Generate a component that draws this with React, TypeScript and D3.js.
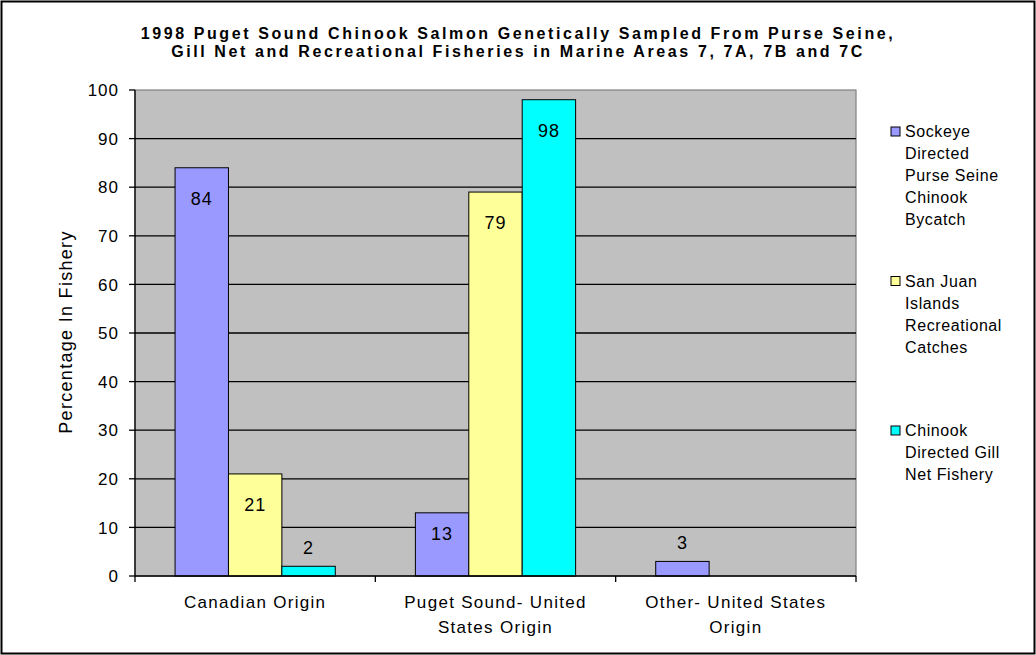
import React from "react";
import * as d3 from "d3";

const categories: string[][] = [
  ["Canadian Origin"],
  ["Puget Sound- United", "States Origin"],
  ["Other- United States", "Origin"],
];
const seriesNames: string[][] = [
  ["Sockeye", "Directed", "Purse Seine", "Chinook", "Bycatch"],
  ["San Juan", "Islands", "Recreational", "Catches"],
  ["Chinook", "Directed Gill", "Net Fishery"],
];
const sockeye: (number | null)[] = [84, 13, 3];
const sanJuan: (number | null)[] = [21, 79, null];
const gillNet: (number | null)[] = [2, 98, null];
const seriesValues = [sockeye, sanJuan, gillNet];
const colors = ["#9999FF", "#FFFF99", "#00FFFF"];
const yTicks = [0, 10, 20, 30, 40, 50, 60, 70, 80, 90, 100];
const titleLines = [
  "1998 Puget Sound Chinook Salmon Genetically Sampled From Purse Seine,",
  "Gill Net and Recreational Fisheries in Marine Areas 7, 7A, 7B and 7C",
];
const yTitle = "Percentage In Fishery";

export default function App() {
  const W = 1036, H = 655;
  const left = 135, right = 856, top = 90, bottom = 576;
  const y = d3.scaleLinear().domain([0, 100]).range([bottom, top]);
  const x0 = d3.scaleBand<number>().domain([0, 1, 2]).range([left, right]).paddingInner(0).paddingOuter(0);
  const bw = x0.bandwidth();
  const barW = bw / 4.5;
  const groupOff = (bw - 3 * barW) / 2;
  const font = "'Liberation Sans', Arial, sans-serif";

  return (
    <svg width={W} height={H} style={{ position: "fixed", left: 0, top: 0, background: "#fff" }} fontFamily={font}>
      <rect x={1.5} y={1.5} width={W - 3} height={H - 3} fill="#fff" stroke="#000" strokeWidth={2} />
      {titleLines.map((t, i) => (
        <text key={i} x={518} y={39 + i * 18} textAnchor="middle" fontWeight="bold" fontSize={16} letterSpacing={2.6}>
          {t}
        </text>
      ))}
      <rect x={left} y={top} width={right - left} height={bottom - top} fill="#C0C0C0" stroke="#808080" strokeWidth={1.2} />
      {yTicks.filter((t) => t > 0 && t < 100).map((t) => (
        <line key={t} x1={left} x2={right} y1={y(t)} y2={y(t)} stroke="#000" strokeWidth={1.3} />
      ))}
      {seriesValues.map((vals, s) =>
        vals.map((v, c) => {
          if (v == null) return null;
          const bx = (x0(c) as number) + groupOff + s * barW;
          return (
            <rect key={`${s}-${c}`} x={bx} y={y(v)} width={barW} height={bottom - y(v)} fill={colors[s]} stroke="#000" strokeWidth={1} />
          );
        })
      )}
      {seriesValues.map((vals, s) =>
        vals.map((v, c) => {
          if (v == null) return null;
          const bx = (x0(c) as number) + groupOff + s * barW + barW / 2;
          const h = bottom - y(v);
          const ly = h < 30 ? y(v) - 12 : Math.min(y(v) + 37, bottom - 36);
          return (
            <text key={`l${s}-${c}`} x={bx} y={ly} textAnchor="middle" fontSize={18} letterSpacing={1}>
              {v}
            </text>
          );
        })
      )}
      <line x1={left} x2={left} y1={top} y2={bottom + 6} stroke="#000" strokeWidth={1.3} />
      <line x1={left} x2={right} y1={bottom} y2={bottom} stroke="#000" strokeWidth={1.3} />
      {yTicks.map((t) => (
        <g key={t}>
          <line x1={left - 6} x2={left} y1={y(t)} y2={y(t)} stroke="#000" strokeWidth={1.3} />
          <text x={119} y={y(t)} dy="0.36em" textAnchor="end" fontSize={17} letterSpacing={1}>
            {t}
          </text>
        </g>
      ))}
      {[1, 2, 3].map((i) => {
        const xx = left + i * bw;
        return <line key={i} x1={xx} x2={xx} y1={bottom} y2={bottom + 6} stroke="#000" strokeWidth={1.3} />;
      })}
      {categories.map((lines, c) => (
        <text key={c} x={(x0(c) as number) + bw / 2} y={608} textAnchor="middle" fontSize={17} letterSpacing={1.3}>
          {lines.map((l, i) => (
            <tspan key={i} x={(x0(c) as number) + bw / 2} dy={i === 0 ? 0 : 25}>
              {l}
            </tspan>
          ))}
        </text>
      ))}
      <text transform={`translate(72,332) rotate(-90)`} textAnchor="middle" fontSize={18} letterSpacing={1.3}>
        {yTitle}
      </text>
      {seriesNames.map((lines, s) => {
        const by = 137 + s * 149.5;
        return (
          <g key={s}>
            <rect x={891} y={by - 10} width={9} height={9} fill={colors[s]} stroke="#000" strokeWidth={1} />
            {lines.map((l, i) => (
              <text key={i} x={905} y={by + i * 22} fontSize={16} letterSpacing={0.6}>
                {l}
              </text>
            ))}
          </g>
        );
      })}
    </svg>
  );
}
